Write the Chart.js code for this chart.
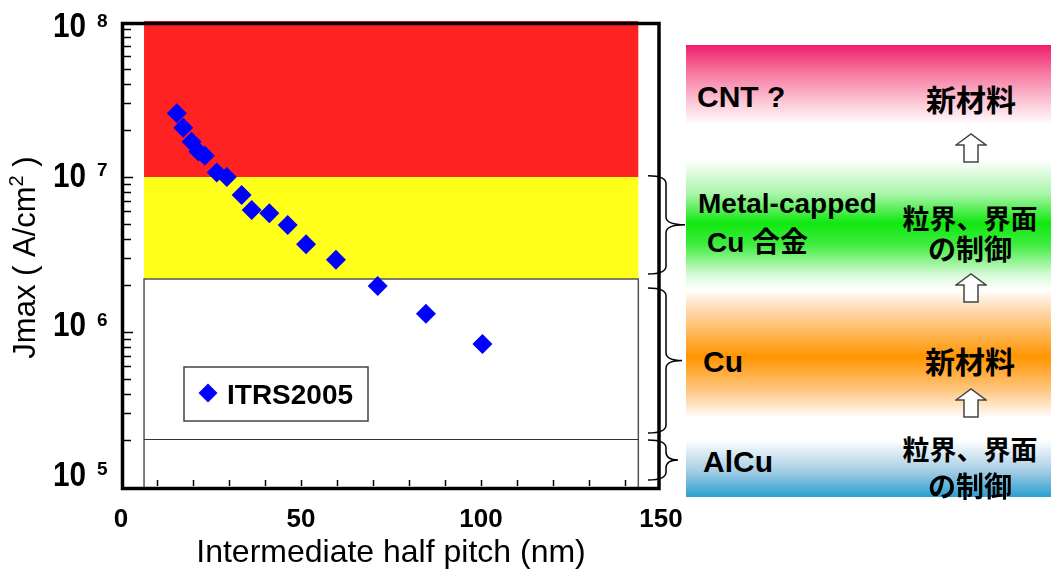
<!DOCTYPE html>
<html><head><meta charset="utf-8">
<script src="https://cdn.jsdelivr.net/npm/chart.js@4.4.1/dist/chart.umd.min.js"></script>
<style>
html,body{margin:0;padding:0;background:#fff;}
#wrap{position:relative;width:1051px;height:573px;overflow:hidden;background:#fff;}
#c{position:absolute;left:0;top:0;}
#panel{position:absolute;left:686px;top:45px;width:365px;height:452px;
background:linear-gradient(to bottom,#f01e6e 0%,#f5709a 5.5%,#fcc0d2 12%,#ffffff 17.7%,#ffffff 25.4%,#a8f5a8 33%,#10e810 39.4%,#40ec40 44.2%,#d8fad8 50.9%,#ffffff 54.2%,#ffd9b0 58.6%,#ff9500 69%,#ffc680 76.3%,#ffffff 82.5%,#ffffff 87.4%,#a9cfe5 94%,#2a9fd0 100%);
font-family:"Liberation Sans","Noto Sans CJK JP",sans-serif;font-weight:bold;color:#000;}
.t{position:absolute;white-space:nowrap;line-height:1;transform:translateY(-50%);}
.c{transform:translate(-50%,-50%);}
.j{font-family:"Noto Sans CJK JP",sans-serif;}
.arr{position:absolute;transform:translateX(-50%);}
</style></head>
<body>
<div id="wrap">
<canvas id="c" width="1051" height="573"></canvas>
<div id="panel">
  <div class="t" style="left:11px;top:52px;font-size:30px;">CNT ?</div>
  <div class="t c j" style="left:285px;top:53px;font-size:30px;">新材料</div>
  <svg class="arr" style="left:285px;top:88px;" width="32" height="30" viewBox="0 0 32 30"><path d="M1 12 L16 1 L31 12 L23 12 L23 29 L9 29 L9 12 Z" fill="#fff" stroke="#444" stroke-width="1.5"/></svg>
  <div class="t" style="left:12px;top:159px;font-size:28px;">Metal-capped</div>
  <div class="t" style="left:21px;top:196px;font-size:28px;">Cu <span class="j">合金</span></div>
  <div class="t c j" style="left:284px;top:172px;font-size:27px;">粒界、界面</div>
  <div class="t c j" style="left:284px;top:203px;font-size:28px;">の制御</div>
  <svg class="arr" style="left:285px;top:228px;" width="32" height="30" viewBox="0 0 32 30"><path d="M1 12 L16 1 L31 12 L23 12 L23 29 L9 29 L9 12 Z" fill="#fff" stroke="#444" stroke-width="1.5"/></svg>
  <div class="t" style="left:17px;top:317px;font-size:30px;">Cu</div>
  <div class="t c j" style="left:284px;top:315px;font-size:30px;">新材料</div>
  <svg class="arr" style="left:285px;top:343px;" width="32" height="30" viewBox="0 0 32 30"><path d="M1 12 L16 1 L31 12 L23 12 L23 29 L9 29 L9 12 Z" fill="#fff" stroke="#444" stroke-width="1.5"/></svg>
  <div class="t c j" style="left:284px;top:403px;font-size:27px;">粒界、界面</div>
  <div class="t" style="left:17px;top:417px;font-size:30px;">AlCu</div>
  <div class="t c j" style="left:284px;top:440px;font-size:28px;">の制御</div>
</div>
</div>
<script>
// ---- data ----
const halfPitch = [15.5, 17.3, 19.6, 21.5, 23.3, 26.6, 29.4, 33.5, 36.3, 41.2, 46.3, 51.4, 59.7, 71.3, 84.7, 100.4];
const jmax = [2.58e7, 2.08e7, 1.69e7, 1.46e7, 1.37e7, 1.07e7, 1.0e7, 7.65e6, 6.12e6, 5.83e6, 4.90e6, 3.68e6, 2.92e6, 1.98e6, 1.31e6, 8.37e5];
const seriesLabel = 'ITRS2005';
const xTickLabels = [0, 50, 100, 150];
const yDecades = [5, 6, 7, 8];
const bandX = [6.4, 143.7];
const redBand = [1e7, 1e8];
const yellowBand = [2.2e6, 1e7];
const dividerValue = 2.05e5;
const braceRanges = [[1.02e7, 2.37e6], [1.92e6, 2.23e5], [2.01e5, 1.11e5]];
const xTitle = 'Intermediate half pitch (nm)';
const yTitleParts = ['Jmax ( A/cm', '2', ' )'];

const FONT = '"Liberation Sans", Arial, sans-serif';

function drawBrace(ctx, xs, xSpine, xTip, yTop, yBot) {
  const ym = (yTop + yBot) / 2, r = 8;
  ctx.beginPath();
  ctx.moveTo(xs, yTop);
  ctx.quadraticCurveTo(xSpine, yTop, xSpine, yTop + r);
  ctx.lineTo(xSpine, ym - r);
  ctx.quadraticCurveTo(xSpine, ym, xTip, ym);
  ctx.quadraticCurveTo(xSpine, ym, xSpine, ym + r);
  ctx.lineTo(xSpine, yBot - r);
  ctx.quadraticCurveTo(xSpine, yBot, xs, yBot);
  ctx.stroke();
}

const deco = {
  id: 'deco',
  beforeDatasetsDraw(chart) {
    const {ctx, chartArea: a, scales: {x, y}} = chart;
    const xl = x.getPixelForValue(bandX[0]), xr = x.getPixelForValue(bandX[1]);
    ctx.save();
    const r1 = y.getPixelForValue(redBand[1]), r0 = y.getPixelForValue(redBand[0]);
    ctx.fillStyle = '#ff2222';
    ctx.fillRect(xl, r1 - 1, xr - xl, r0 - r1 + 1);
    const y1 = y.getPixelForValue(yellowBand[1]), y0 = y.getPixelForValue(yellowBand[0]);
    ctx.fillStyle = '#ffff1a';
    ctx.fillRect(xl, y1, xr - xl, y0 - y1);
    ctx.strokeStyle = '#555'; ctx.lineWidth = 1.5;
    ctx.beginPath();
    ctx.moveTo(xl, a.bottom); ctx.lineTo(xl, y0); ctx.lineTo(xr, y0); ctx.lineTo(xr, a.bottom);
    ctx.stroke();
    ctx.lineWidth = 1; ctx.strokeStyle = '#333';
    const dy = Math.round(y.getPixelForValue(dividerValue)) + 0.5;
    ctx.beginPath(); ctx.moveTo(xl, dy); ctx.lineTo(xr, dy); ctx.stroke();
    ctx.restore();
  },
  afterDraw(chart) {
    const {ctx, chartArea: a, scales: {x, y}} = chart;
    ctx.save();
    // frame
    ctx.strokeStyle = '#000'; ctx.lineWidth = 3.5;
    ctx.strokeRect(a.left + 1.5, a.top + 1.5, a.width - 3.5, a.height);
    // y ticks (inward)
    ctx.lineWidth = 1.5;
    ctx.beginPath();
    for (let d = yDecades[0]; d < yDecades[yDecades.length - 1]; d++) {
      for (let m = 1; m <= 9; m++) {
        const v = m * Math.pow(10, d);
        const py = Math.round(y.getPixelForValue(v)) + 0.5;
        const len = m === 1 ? 9 : 7;
        if (m === 1 && d === yDecades[0]) continue;
        ctx.moveTo(a.left + 3, py); ctx.lineTo(a.left + 3 + len, py);
      }
    }
    // x ticks (inward)
    for (let v = 10; v < 150; v += 10) {
      const px = Math.round(x.getPixelForValue(v)) + 0.5;
      ctx.moveTo(px, a.bottom - 1); ctx.lineTo(px, a.bottom - 7);
    }
    ctx.stroke();

    ctx.fillStyle = '#000';
    // y tick labels 10^n
    yDecades.forEach(d => {
      const tick = y.getPixelForValue(Math.pow(10, d));
      const cy = tick - (tick - a.top) * 0.035 + 2.5;
      ctx.save();
      ctx.translate(86, cy + 12.5);
      ctx.scale(0.85, 1);
      ctx.font = 'bold 35px ' + FONT;
      ctx.textAlign = 'right'; ctx.textBaseline = 'alphabetic';
      ctx.fillText('10', 0, 0);
      ctx.restore();
      ctx.font = 'bold 19px ' + FONT;
      ctx.textAlign = 'left';
      ctx.fillText(String(d), 97, cy + 2);
    });
    // x tick labels
    ctx.font = 'bold 26px ' + FONT;
    ctx.textAlign = 'center'; ctx.textBaseline = 'alphabetic';
    xTickLabels.forEach(v => {
      ctx.fillText(String(v), x.getPixelForValue(v), 527);
    });
    // x title
    ctx.font = '32px ' + FONT;
    ctx.fillText(xTitle, (a.left + a.right) / 2, 562);
    // y title rotated
    ctx.save();
    ctx.translate(35, (a.top + a.bottom) / 2 + 3);
    ctx.rotate(-Math.PI / 2);
    ctx.textAlign = 'left';
    ctx.font = '31px ' + FONT;
    const w0 = ctx.measureText(yTitleParts[0]).width;
    ctx.font = '20px ' + FONT;
    const w1 = ctx.measureText(yTitleParts[1]).width;
    ctx.font = '31px ' + FONT;
    const w2 = ctx.measureText(yTitleParts[2]).width;
    let sx = -(w0 + w1 + w2) / 2;
    ctx.fillText(yTitleParts[0], sx, 0);
    ctx.font = '20px ' + FONT;
    ctx.fillText(yTitleParts[1], sx + w0, -12);
    ctx.font = '31px ' + FONT;
    ctx.fillText(yTitleParts[2], sx + w0 + w1, 0);
    ctx.restore();

    // legend
    const lx = a.left + 63, ly = a.top + 345, lw = 184, lh = 54;
    ctx.strokeStyle = '#444'; ctx.lineWidth = 1.5;
    ctx.fillStyle = '#fff';
    ctx.fillRect(lx, ly, lw, lh);
    ctx.strokeRect(lx, ly, lw, lh);
    const mx = lx + 24, my = ly + 26, mr = 9.5;
    ctx.fillStyle = '#0000ff';
    ctx.beginPath();
    ctx.moveTo(mx - mr, my); ctx.lineTo(mx, my - mr); ctx.lineTo(mx + mr, my); ctx.lineTo(mx, my + mr);
    ctx.closePath(); ctx.fill();
    ctx.fillStyle = '#000';
    ctx.font = 'bold 28px ' + FONT;
    ctx.textAlign = 'left';
    ctx.fillText(chart.data.datasets[0].label, lx + 43, ly + 37);

    // braces
    ctx.strokeStyle = '#000'; ctx.lineWidth = 1.5;
    braceRanges.forEach(([top, bot], i) => {
      const yt = y.getPixelForValue(top), yb = y.getPixelForValue(bot);
      const tip = i === 0 ? 24 : (i === 1 ? 21 : 17);
      drawBrace(ctx, a.right - 13, a.right + 5, a.right + tip, yt, yb);
    });
    ctx.restore();
  }
};

new Chart(document.getElementById('c'), {
  type: 'scatter',
  data: {
    datasets: [{
      label: seriesLabel,
      data: halfPitch.map((v, i) => ({x: v, y: jmax[i]})),
      pointStyle: 'rectRot',
      pointRadius: 10,
      pointHoverRadius: 10,
      backgroundColor: '#0000ff',
      borderColor: '#0000ff',
      borderWidth: 0
    }]
  },
  options: {
    responsive: false,
    animation: false,
    devicePixelRatio: 1,
    layout: {padding: {left: 121, top: 22, right: 390, bottom: 86}},
    scales: {
      x: {type: 'linear', min: 0, max: 150, display: false},
      y: {type: 'logarithmic', min: 1e5, max: 1e8, display: false}
    },
    plugins: {legend: {display: false}, tooltip: {enabled: false}}
  },
  plugins: [deco]
});
</script>
</body></html>
